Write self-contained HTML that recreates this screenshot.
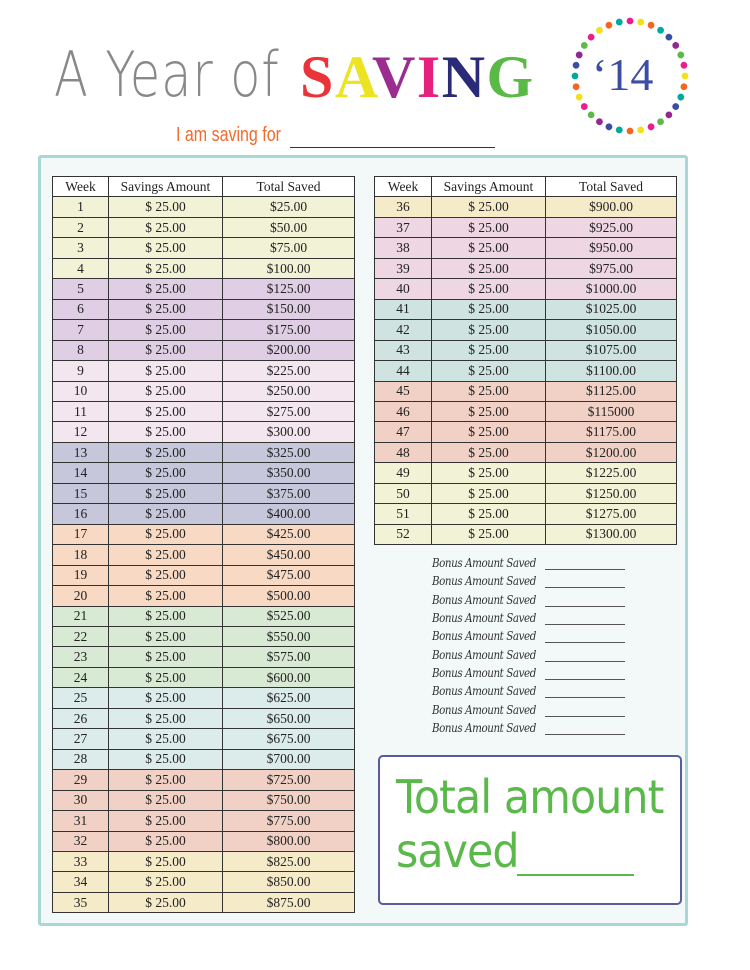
<!DOCTYPE html>
<html><head><meta charset="utf-8"><style>
body{margin:0;width:750px;height:970px;background:#fff;position:relative;overflow:hidden;font-family:"Liberation Serif",serif}
.abs{position:absolute}
.panel{left:38px;top:155px;width:650px;height:771px;background:#f3f9f9;border:3px solid #a9d7d5;border-radius:3px;box-sizing:border-box}
table{position:absolute;border-collapse:collapse;font-size:13.5px;color:#222;table-layout:fixed}
tr{height:20.46px}
td,th{border:1.5px solid #333;text-align:center;padding:0;line-height:16px;font-weight:normal}
th{background:#fff}
.a td{background:#f2f3d6}.b td{background:#e0cfe4}.c td{background:#f3e6ef}.d td{background:#c6c7db}
.e td{background:#f8d9c4}.f td{background:#d9ead4}.g td{background:#dcecea}.h td{background:#f1d1c5}
.i td{background:#f6ebc9}.j td{background:#eed6e3}.k td{background:#cfe4e1}
.bonus{left:432px;font-size:12px;color:#333;font-family:"DejaVu Serif","Liberation Serif",serif;font-style:italic;letter-spacing:-0.5px;transform:scaleX(0.86);transform-origin:left}
.bl{left:545px;width:80px;border-bottom:1px solid #555;height:0}
</style></head><body>
<div class="abs" style="left:54px;top:38px;font-family:'DejaVu Sans',sans-serif;font-weight:200;font-size:62px;color:#888;letter-spacing:1px;transform:scaleX(0.8);transform-origin:left">A Year of</div>
<div class="abs" style="left:300px;top:43px;font-family:'Liberation Serif',serif;font-weight:bold;font-size:60px;letter-spacing:1.5px"><span style="color:#e8343a">S</span><span style="color:#ece322">A</span><span style="color:#9b2d8e">V</span><span style="color:#e6207f">I</span><span style="color:#2a2a78">N</span><span style="color:#5bb947">G</span></div>
<svg class="abs" style="left:565px;top:11px" width="130" height="130">
<g transform="translate(65,65)" >
<g fill="#e91e8c"><circle cx="0" cy="-55" r="3.4"/><circle cx="0" cy="-55" r="3.4" transform="rotate(78.75)"/><circle cx="0" cy="-55" r="3.4" transform="rotate(157.5)"/><circle cx="0" cy="-55" r="3.4" transform="rotate(236.25)"/><circle cx="0" cy="-55" r="3.4" transform="rotate(315)"/></g>
<g fill="#f2e01a"><circle cx="0" cy="-55" r="3.4" transform="rotate(11.25)"/><circle cx="0" cy="-55" r="3.4" transform="rotate(90)"/><circle cx="0" cy="-55" r="3.4" transform="rotate(168.75)"/><circle cx="0" cy="-55" r="3.4" transform="rotate(247.5)"/><circle cx="0" cy="-55" r="3.4" transform="rotate(326.25)"/></g>
<g fill="#f26522"><circle cx="0" cy="-55" r="3.4" transform="rotate(22.5)"/><circle cx="0" cy="-55" r="3.4" transform="rotate(101.25)"/><circle cx="0" cy="-55" r="3.4" transform="rotate(180)"/><circle cx="0" cy="-55" r="3.4" transform="rotate(258.75)"/><circle cx="0" cy="-55" r="3.4" transform="rotate(337.5)"/></g>
<g fill="#00a99d"><circle cx="0" cy="-55" r="3.4" transform="rotate(33.75)"/><circle cx="0" cy="-55" r="3.4" transform="rotate(112.5)"/><circle cx="0" cy="-55" r="3.4" transform="rotate(191.25)"/><circle cx="0" cy="-55" r="3.4" transform="rotate(270)"/><circle cx="0" cy="-55" r="3.4" transform="rotate(348.75)"/></g>
<g fill="#3b4ea3"><circle cx="0" cy="-55" r="3.4" transform="rotate(45)"/><circle cx="0" cy="-55" r="3.4" transform="rotate(123.75)"/><circle cx="0" cy="-55" r="3.4" transform="rotate(202.5)"/><circle cx="0" cy="-55" r="3.4" transform="rotate(281.25)"/></g>
<g fill="#92278f"><circle cx="0" cy="-55" r="3.4" transform="rotate(56.25)"/><circle cx="0" cy="-55" r="3.4" transform="rotate(135)"/><circle cx="0" cy="-55" r="3.4" transform="rotate(213.75)"/><circle cx="0" cy="-55" r="3.4" transform="rotate(292.5)"/></g>
<g fill="#5bbb46"><circle cx="0" cy="-55" r="3.4" transform="rotate(67.5)"/><circle cx="0" cy="-55" r="3.4" transform="rotate(146.25)"/><circle cx="0" cy="-55" r="3.4" transform="rotate(225)"/><circle cx="0" cy="-55" r="3.4" transform="rotate(303.75)"/></g>
</g></svg>
<div class="abs" style="left:592px;top:48px;font-family:'Liberation Serif',serif;font-size:46px;color:#3b4ea3">‘14</div>
<div class="abs" style="left:176px;top:124px;font-family:'Liberation Sans',sans-serif;font-size:20px;color:#f26a2e;transform:scaleX(0.8);transform-origin:left">I am saving for</div>
<div class="abs" style="left:290px;top:147px;width:205px;border-bottom:1.5px solid #333"></div>
<div class="abs panel"></div>

<table style="left:52px;top:176px;width:302px">
<colgroup><col style="width:56px"><col style="width:114px"><col style="width:132px"></colgroup>
<tr><th>Week</th><th>Savings Amount</th><th>Total Saved</th></tr>
<tr class="a"><td>1</td><td>$ 25.00</td><td>$25.00</td></tr>
<tr class="a"><td>2</td><td>$ 25.00</td><td>$50.00</td></tr>
<tr class="a"><td>3</td><td>$ 25.00</td><td>$75.00</td></tr>
<tr class="a"><td>4</td><td>$ 25.00</td><td>$100.00</td></tr>
<tr class="b"><td>5</td><td>$ 25.00</td><td>$125.00</td></tr>
<tr class="b"><td>6</td><td>$ 25.00</td><td>$150.00</td></tr>
<tr class="b"><td>7</td><td>$ 25.00</td><td>$175.00</td></tr>
<tr class="b"><td>8</td><td>$ 25.00</td><td>$200.00</td></tr>
<tr class="c"><td>9</td><td>$ 25.00</td><td>$225.00</td></tr>
<tr class="c"><td>10</td><td>$ 25.00</td><td>$250.00</td></tr>
<tr class="c"><td>11</td><td>$ 25.00</td><td>$275.00</td></tr>
<tr class="c"><td>12</td><td>$ 25.00</td><td>$300.00</td></tr>
<tr class="d"><td>13</td><td>$ 25.00</td><td>$325.00</td></tr>
<tr class="d"><td>14</td><td>$ 25.00</td><td>$350.00</td></tr>
<tr class="d"><td>15</td><td>$ 25.00</td><td>$375.00</td></tr>
<tr class="d"><td>16</td><td>$ 25.00</td><td>$400.00</td></tr>
<tr class="e"><td>17</td><td>$ 25.00</td><td>$425.00</td></tr>
<tr class="e"><td>18</td><td>$ 25.00</td><td>$450.00</td></tr>
<tr class="e"><td>19</td><td>$ 25.00</td><td>$475.00</td></tr>
<tr class="e"><td>20</td><td>$ 25.00</td><td>$500.00</td></tr>
<tr class="f"><td>21</td><td>$ 25.00</td><td>$525.00</td></tr>
<tr class="f"><td>22</td><td>$ 25.00</td><td>$550.00</td></tr>
<tr class="f"><td>23</td><td>$ 25.00</td><td>$575.00</td></tr>
<tr class="f"><td>24</td><td>$ 25.00</td><td>$600.00</td></tr>
<tr class="g"><td>25</td><td>$ 25.00</td><td>$625.00</td></tr>
<tr class="g"><td>26</td><td>$ 25.00</td><td>$650.00</td></tr>
<tr class="g"><td>27</td><td>$ 25.00</td><td>$675.00</td></tr>
<tr class="g"><td>28</td><td>$ 25.00</td><td>$700.00</td></tr>
<tr class="h"><td>29</td><td>$ 25.00</td><td>$725.00</td></tr>
<tr class="h"><td>30</td><td>$ 25.00</td><td>$750.00</td></tr>
<tr class="h"><td>31</td><td>$ 25.00</td><td>$775.00</td></tr>
<tr class="h"><td>32</td><td>$ 25.00</td><td>$800.00</td></tr>
<tr class="i"><td>33</td><td>$ 25.00</td><td>$825.00</td></tr>
<tr class="i"><td>34</td><td>$ 25.00</td><td>$850.00</td></tr>
<tr class="i"><td>35</td><td>$ 25.00</td><td>$875.00</td></tr>
</table>

<table style="left:374px;top:176px;width:302px">
<colgroup><col style="width:57px"><col style="width:114px"><col style="width:131px"></colgroup>
<tr><th>Week</th><th>Savings Amount</th><th>Total Saved</th></tr>
<tr class="i"><td>36</td><td>$ 25.00</td><td>$900.00</td></tr>
<tr class="j"><td>37</td><td>$ 25.00</td><td>$925.00</td></tr>
<tr class="j"><td>38</td><td>$ 25.00</td><td>$950.00</td></tr>
<tr class="j"><td>39</td><td>$ 25.00</td><td>$975.00</td></tr>
<tr class="j"><td>40</td><td>$ 25.00</td><td>$1000.00</td></tr>
<tr class="k"><td>41</td><td>$ 25.00</td><td>$1025.00</td></tr>
<tr class="k"><td>42</td><td>$ 25.00</td><td>$1050.00</td></tr>
<tr class="k"><td>43</td><td>$ 25.00</td><td>$1075.00</td></tr>
<tr class="k"><td>44</td><td>$ 25.00</td><td>$1100.00</td></tr>
<tr class="h"><td>45</td><td>$ 25.00</td><td>$1125.00</td></tr>
<tr class="h"><td>46</td><td>$ 25.00</td><td>$115000</td></tr>
<tr class="h"><td>47</td><td>$ 25.00</td><td>$1175.00</td></tr>
<tr class="h"><td>48</td><td>$ 25.00</td><td>$1200.00</td></tr>
<tr class="a"><td>49</td><td>$ 25.00</td><td>$1225.00</td></tr>
<tr class="a"><td>50</td><td>$ 25.00</td><td>$1250.00</td></tr>
<tr class="a"><td>51</td><td>$ 25.00</td><td>$1275.00</td></tr>
<tr class="a"><td>52</td><td>$ 25.00</td><td>$1300.00</td></tr>
</table>

<div class="abs bonus" style="top:556px">Bonus Amount Saved</div><div class="abs bl" style="top:569px"></div>
<div class="abs bonus" style="top:574px">Bonus Amount Saved</div><div class="abs bl" style="top:587px"></div>
<div class="abs bonus" style="top:593px">Bonus Amount Saved</div><div class="abs bl" style="top:606px"></div>
<div class="abs bonus" style="top:611px">Bonus Amount Saved</div><div class="abs bl" style="top:624px"></div>
<div class="abs bonus" style="top:629px">Bonus Amount Saved</div><div class="abs bl" style="top:642px"></div>
<div class="abs bonus" style="top:648px">Bonus Amount Saved</div><div class="abs bl" style="top:661px"></div>
<div class="abs bonus" style="top:666px">Bonus Amount Saved</div><div class="abs bl" style="top:679px"></div>
<div class="abs bonus" style="top:684px">Bonus Amount Saved</div><div class="abs bl" style="top:697px"></div>
<div class="abs bonus" style="top:703px">Bonus Amount Saved</div><div class="abs bl" style="top:716px"></div>
<div class="abs bonus" style="top:721px">Bonus Amount Saved</div><div class="abs bl" style="top:734px"></div>

<div class="abs" style="left:378px;top:755px;width:304px;height:150px;box-sizing:border-box;border:2px solid #5a5a9e;border-radius:5px;background:#fff"></div>
<div class="abs" style="left:396px;top:770px;font-family:'DejaVu Sans',sans-serif;font-size:46px;line-height:54px;color:#5bb84a;letter-spacing:-1px;transform:scaleX(0.93);transform-origin:left">Total amount<br>saved</div>
<div class="abs" style="left:517px;top:874px;width:117px;border-bottom:2.5px solid #5bb84a"></div>
</body></html>
